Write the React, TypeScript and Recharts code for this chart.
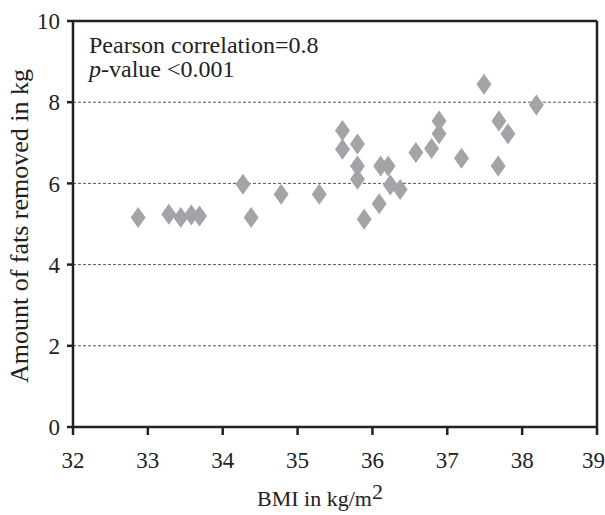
import {
  ScatterChart,
  Scatter,
  XAxis,
  YAxis,
  CartesianGrid,
  ReferenceLine,
  Label,
} from "recharts";

const bmi = [
  32.87, 33.28, 33.44, 33.58, 33.69, 34.27, 34.38, 34.78, 35.29, 35.6, 35.6,
  35.8, 35.8, 35.8, 35.89, 36.09, 36.11, 36.21, 36.24, 36.37, 36.58, 36.79,
  36.89, 36.89, 37.19, 37.49, 37.69, 37.68, 37.81, 38.19,
];
const fatRemoved = [
  5.16, 5.24, 5.16, 5.22, 5.2, 5.98, 5.16, 5.73, 5.73, 7.3, 6.84, 6.97, 6.43,
  6.1, 5.12, 5.5, 6.43, 6.43, 5.96, 5.85, 6.76, 6.86, 7.54, 7.22, 6.62, 8.44,
  7.54, 6.43, 7.22, 7.93,
];
const xTicks = [32, 33, 34, 35, 36, 37, 38, 39];
const yTicks = [0, 2, 4, 6, 8, 10];

const points = bmi.map((x, i) => ({ x, y: fatRemoved[i] }));

const FONT = "'Liberation Serif', 'Times New Roman', serif";
const INK = "#222";

const Diamond = (props: any) => {
  const { cx, cy } = props;
  if (cx == null || cy == null) return null;
  const w = 7.5;
  const h = 10.5;
  return (
    <polygon
      points={`${cx},${cy - h} ${cx + w},${cy} ${cx},${cy + h} ${cx - w},${cy}`}
      fill="#a3a4a7"
    />
  );
};

export default function App() {
  return (
    <div style={{ width: 605, height: 515, background: "#fff" }}>
      <style>{`body{margin:0} .recharts-wrapper text{font-family:${FONT};}`}</style>
      <ScatterChart
        width={605}
        height={515}
        margin={{ top: 21, right: 8, bottom: 0, left: 0 }}
      >
        <CartesianGrid
          vertical={false}
          stroke="#555"
          strokeDasharray="3 2"
          horizontalValues={[2, 4, 6, 8]}
        />
        <XAxis
          type="number"
          dataKey="x"
          domain={[32, 39]}
          ticks={xTicks}
          height={88}
          tickSize={8}
          tickMargin={17}
          axisLine={{ stroke: INK, strokeWidth: 2.5 }}
          tickLine={{ stroke: INK, strokeWidth: 2.5 }}
          tick={{ fill: INK, fontSize: 23 }}
          allowDataOverflow
        >
          <Label
            content={() => (
              <text
                x={320}
                y={506}
                textAnchor="middle"
                fill={INK}
                fontSize={22}
              >
                BMI in kg/m
                <tspan dy={-7} fontSize={22}>
                  2
                </tspan>
              </text>
            )}
          />
        </XAxis>
        <YAxis
          type="number"
          dataKey="y"
          domain={[0, 10]}
          ticks={yTicks}
          width={73}
          tickSize={6}
          tickMargin={7}
          axisLine={{ stroke: INK, strokeWidth: 2.5 }}
          tickLine={{ stroke: INK, strokeWidth: 2.5 }}
          tick={{ fill: INK, fontSize: 23 }}
          allowDataOverflow
        >
          <Label
            content={() => (
              <text
                x={28}
                y={226}
                transform="rotate(-90, 28, 226)"
                textAnchor="middle"
                fill={INK}
                fontSize={26}
              >
                Amount of fats removed in kg
              </text>
            )}
          />
        </YAxis>
        <ReferenceLine y={10} stroke={INK} strokeWidth={2.5} />
        <ReferenceLine x={39} stroke={INK} strokeWidth={2.5} />
        <Scatter
          data={points}
          shape={<Diamond />}
          isAnimationActive={false}
        />
        <text x={89} y={53} fill={INK} fontSize={24}>
          Pearson correlation=0.8
        </text>
        <text x={89} y={77} fill={INK} fontSize={24}>
          <tspan fontStyle="italic">p</tspan>-value &lt;0.001
        </text>
      </ScatterChart>
    </div>
  );
}
